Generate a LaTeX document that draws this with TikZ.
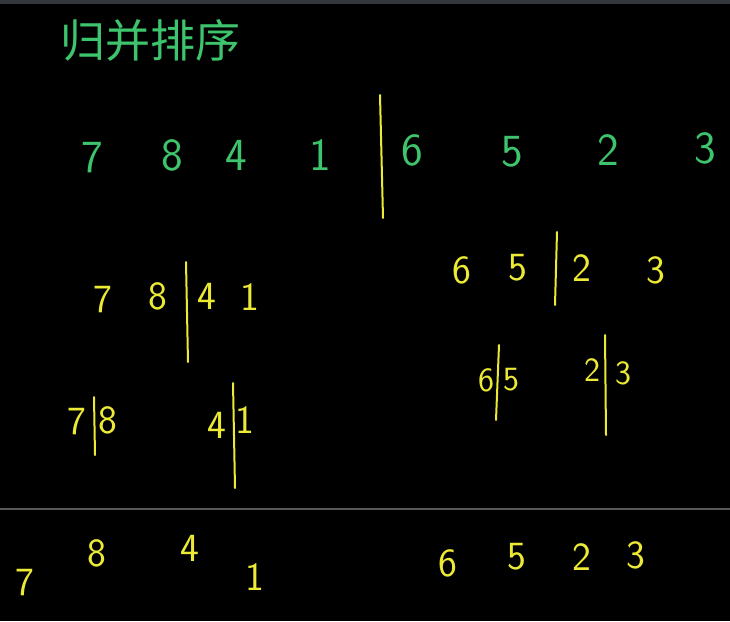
\documentclass[tikz,border=0pt]{standalone}
\usepackage{fontspec}
\newfontfamily\cjk{Noto Sans CJK SC}
\definecolor{chalkgreen}{RGB}{62,196,108}
\definecolor{chalkyellow}{RGB}{236,234,52}
\definecolor{barcol}{RGB}{52,55,59}
\definecolor{rulecol}{RGB}{88,88,88}
\tikzset{
  gnum/.style={text=chalkgreen, font=\fontsize{46}{46}\sffamily, inner sep=0pt},
  ynum/.style={text=chalkyellow, font=\fontsize{40}{40}\sffamily, inner sep=0pt},
  ysmall/.style={ynum, font=\fontsize{34}{34}\sffamily},
  cut/.style={draw=chalkyellow, line width=2pt},
}
\begin{document}
\begin{tikzpicture}[x=1pt, y=-1pt, line join=round, line cap=round]
	\def\xmax{730};\def\ymax{621};
	\fill[black] (0,0) rectangle (\xmax,\ymax);
	\useasboundingbox (0,0) rectangle (\xmax,\ymax);
	\fill[barcol] (0,0) rectangle (\xmax,4);
	% title
	\node[text=chalkgreen, font=\fontsize{45}{45}\cjk, inner sep=0pt] (title) at (150,40) {归并排序};
	% first split
	\node[gnum] (a7) at (92,158) {7};
	\node[gnum] (a8) at (172,155) {8};
	\node[gnum] (a4) at (236,155) {4};
	\node[gnum] (a1) at (320,155) {1};
	\node[gnum] (a6) at (412,150) {6};
	\node[gnum] (a5) at (512,152) {5};
	\node[gnum] (a2) at (608,150) {2};
	\node[gnum] (a3) at (705,148) {3};
	\coordinate (c1t) at (380,95); \coordinate (c1b) at (383,218);
	\draw[cut] (c1t)--(c1b);
	% second split
	\node[ynum] (b7) at (103,300) {7};
	\node[ynum] (b8) at (158,296) {8};
	\node[ynum] (b4) at (207,296) {4};
	\node[ynum] (b1) at (250,297) {1};
	\coordinate (c2t) at (186,262); \coordinate (c2b) at (188,362);
	\draw[cut] (c2t)--(c2b);
	\node[ynum] (b6) at (462,270) {6};
	\node[ynum] (b5) at (518,268) {5};
	\node[ynum] (b2) at (582,268) {2};
	\node[ynum] (b3) at (656,270) {3};
	\coordinate (c3t) at (557,232); \coordinate (c3b) at (555,305);
	\draw[cut] (c3t)--(c3b);
	% third split
	\node[ynum] (d7) at (77,422) {7};
	\node[ynum] (d8) at (108,420) {8};
	\coordinate (c4t) at (94,397); \coordinate (c4b) at (95,455);
	\draw[cut] (c4t)--(c4b);
	\node[ynum] (d4) at (217,425) {4};
	\node[ynum] (d1) at (245,420) {1};
	\coordinate (c5t) at (233,383); \coordinate (c5b) at (235,488);
	\draw[cut] (c5t)--(c5b);
	\node[ysmall] (d6) at (486,380) {6};
	\node[ysmall] (d5) at (511,380) {5};
	\coordinate (c6t) at (499,345); \coordinate (c6b) at (496,420);
	\draw[cut] (c6t)--(c6b);
	\node[ysmall] (d2) at (592,370) {2};
	\node[ysmall] (d3) at (623,373) {3};
	\coordinate (c7t) at (605,335); \coordinate (c7b) at (606,435);
	\draw[cut] (c7t)--(c7b);
	% separator
	\coordinate (sl) at (0,509); \coordinate (sr) at (\xmax,509);
	\draw[rulecol, line width=1.2pt, line cap=butt] (sl)--(sr);
	% bottom row
	\node[ynum] (e7) at (25,583) {7};
	\node[ynum] (e8) at (97,553) {8};
	\node[ynum] (e4) at (190,548) {4};
	\node[ynum] (e1) at (255,577) {1};
	\node[ynum] (e6) at (448,563) {6};
	\node[ynum] (e5) at (517,557) {5};
	\node[ynum] (e2) at (582,557) {2};
	\node[ynum] (e3) at (636,555) {3};
\end{tikzpicture}
\end{document}
